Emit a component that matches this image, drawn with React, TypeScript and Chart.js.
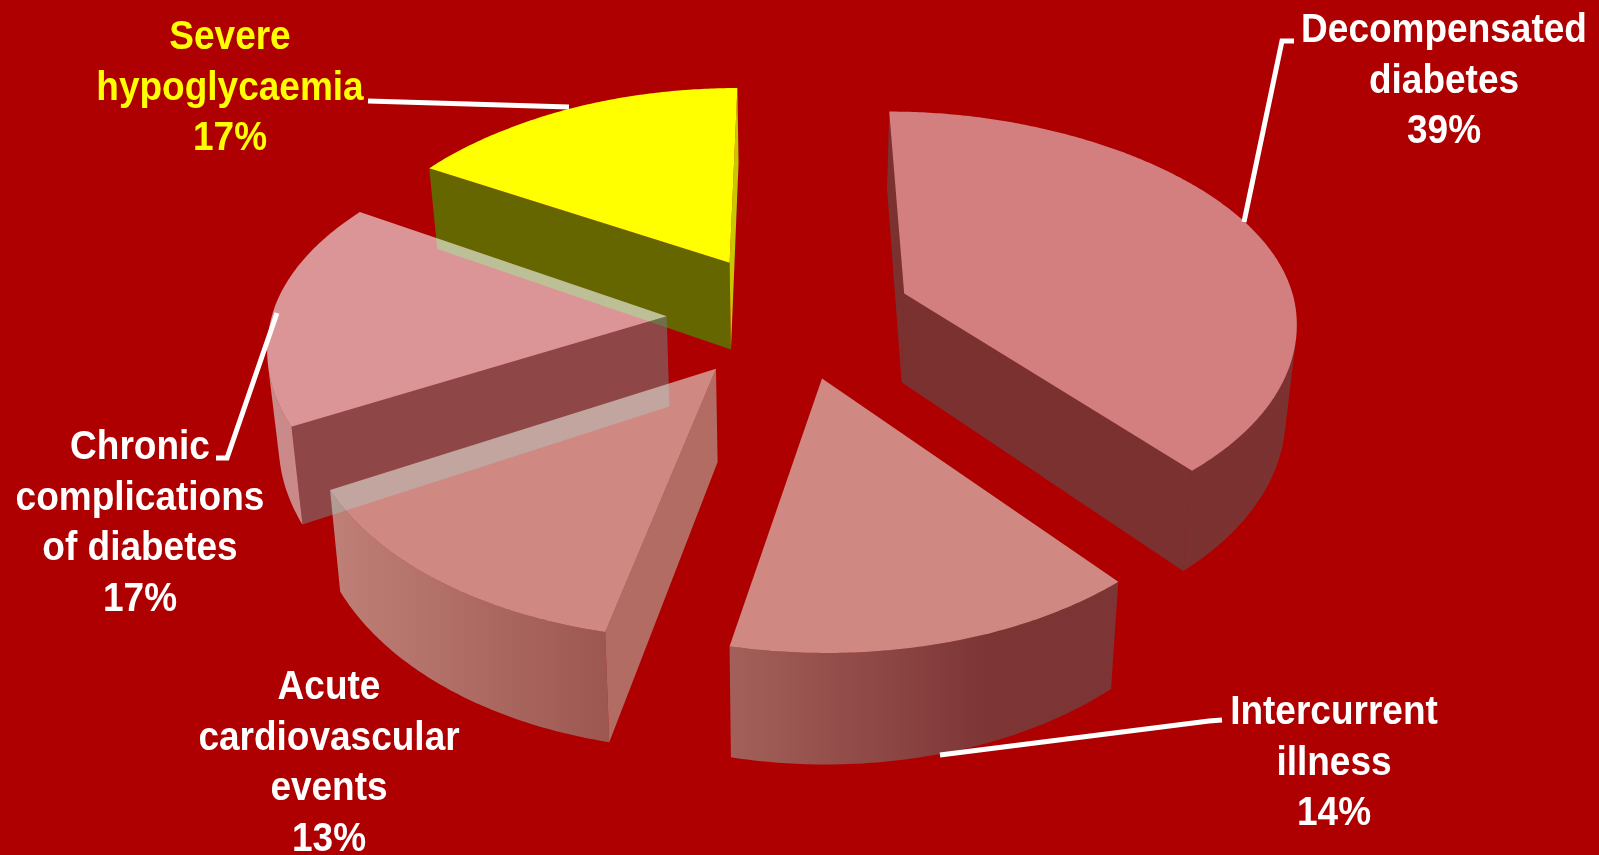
import React, { useEffect, useRef } from "react";
import { Chart, registerables } from "chart.js";

Chart.register(...registerables);

// Share of admissions by cause, in percent, clockwise from twelve o'clock.
const categories = [
  "Decompensated diabetes",
  "Intercurrent illness",
  "Acute cardiovascular events",
  "Chronic complications of diabetes",
  "Severe hypoglycaemia",
];
const shares = [39, 14, 13, 17, 17];

const labelLines = [
  ["Decompensated", "diabetes", "39%"],
  ["Intercurrent", "illness", "14%"],
  ["Acute", "cardiovascular", "events", "13%"],
  ["Chronic", "complications", "of diabetes", "17%"],
  ["Severe", "hypoglycaemia", "17%"],
];

const BACKGROUND = "#ae0000";
const FONT = 'bold 40px "Liberation Sans", Arial, sans-serif';
const TEXT_SQUEEZE = 0.925;
const LINE_HEIGHT = 50.6;

// Per-slice look: top face, side wall stops (left to right), cut faces.
const sliceStyles = [
  { top: "rgba(248,254,255,0.5)", wall: ["rgba(87,87,87,0.57)", "rgba(87,87,87,0.57)"], wallAt: [0, 1], cutA: "rgba(87,87,87,0.57)", cutB: "rgba(87,87,87,0.57)" },
  { top: "rgba(229,228,217,0.6)", wall: ["rgba(156,160,150,0.6)", "rgba(91,87,87,0.6)", "rgba(91,87,87,0.6)"], wallAt: [0, 0.68, 1], cutA: "rgba(91,87,87,0.6)", cutB: "rgba(156,160,150,0.6)" },
  { top: "rgba(229,228,217,0.6)", wall: ["rgba(202,213,200,0.6)", "rgba(144,145,133,0.6)"], wallAt: [0, 1], cutA: "rgba(182,180,167,0.6)", cutB: "rgba(182,180,167,0.6)" },
  { top: "rgba(250,254,255,0.59)", wall: ["rgba(222,234,234,0.59)", "rgba(222,234,234,0.59)"], wallAt: [0, 1], cutA: "rgba(119,119,119,0.59)", cutB: "rgba(119,119,119,0.59)" },
  { top: "#ffff00", wall: ["#666600", "#666600"], wallAt: [0, 1], cutA: "#666600", cutB: "#c8c800" },
];
const sliceExplode = [1, 1, 1.03, 1, 1];

// Camera for the tilted, exploded pie. World units are pie radii.
const camera = {
  cx: 790,
  scaleX: 391,
  horizon: -1099,
  depth: 1414,
  tilt: 0.153,
  thickness: 90,
  taper: 0.978,
  explodeX: 0.315,
  explodeY: 0.29,
  sag: 6.5,
  nearSquash: 0.02,
};

type Pt = { x: number; y: number };

function project(X: number, Y: number, bottom: boolean): Pt {
  const w = 1 - camera.tilt * Y;
  const x = (camera.scaleX * X) / w;
  const sagAmount = camera.sag * X * X * Math.min(1, Math.max(0, 1 + Y));
  return {
    x: camera.cx + (bottom ? x * camera.taper : x),
    y: camera.horizon + (camera.depth + (bottom ? camera.thickness : 0)) / w - sagAmount,
  };
}

// Lens correction of the rim, in radians, for a chart angle.
function rimShift(a: number) {
  const deg = (((a + Math.PI / 2) * 180) / Math.PI + 720) % 360;
  const near = 0.9 * ((1 - Math.cos((deg * Math.PI) / 180)) / 2);
  const far = 1.6 * Math.exp(-(((deg - 265) / 40) ** 2));
  return ((near + far) * Math.PI) / 180;
}

function rimPoint(ox: number, oy: number, t: number, bottom: boolean) {
  const a = t + rimShift(t);
  const s = Math.sin(a);
  const ry = s > 0 ? s - camera.nearSquash * s * s : s;
  return project(ox + Math.cos(a), oy + ry, bottom);
}

function tracePolygon(ctx: CanvasRenderingContext2D, pts: Pt[]) {
  ctx.beginPath();
  pts.forEach((p, i) => (i ? ctx.lineTo(p.x, p.y) : ctx.moveTo(p.x, p.y)));
  ctx.closePath();
}

// Turning sign of the quad p, q, q', p'; negative means it faces the viewer.
function facesViewer(p: Pt, q: Pt, qb: Pt) {
  return (q.x - p.x) * (qb.y - q.y) - (q.y - p.y) * (qb.x - q.x) < 0;
}

function drawSlice(ctx: CanvasRenderingContext2D, arc: any, index: number) {
  const style = sliceStyles[index];
  const { startAngle, endAngle } = arc.getProps(["startAngle", "endAngle"], true);
  const mid = (startAngle + endAngle) / 2;
  const ox = Math.cos(mid) * camera.explodeX * sliceExplode[index];
  const oy = Math.sin(mid) * camera.explodeY;
  const steps = Math.ceil((endAngle - startAngle) / 0.01);
  const rimTop: Pt[] = [];
  const rimBottom: Pt[] = [];
  for (let i = 0; i <= steps; i++) {
    const t = startAngle + ((endAngle - startAngle) * i) / steps;
    rimTop.push(rimPoint(ox, oy, t, false));
    rimBottom.push(rimPoint(ox, oy, t, true));
  }
  const apexTop = project(ox, oy, false);
  const apexBottom = project(ox, oy, true);

  // Cut face along the first radius.
  if (facesViewer(apexTop, rimTop[0], rimBottom[0])) {
    tracePolygon(ctx, [apexTop, rimTop[0], rimBottom[0], apexBottom]);
    ctx.fillStyle = style.cutA;
    ctx.fill();
  }
  // Cut face along the last radius.
  const last = rimTop.length - 1;
  if (facesViewer(rimTop[last], apexTop, apexBottom)) {
    tracePolygon(ctx, [rimTop[last], apexTop, apexBottom, rimBottom[last]]);
    ctx.fillStyle = style.cutB;
    ctx.fill();
  }
  // Curved side wall: only the run of the rim that turns toward the viewer.
  const front: number[] = [];
  for (let i = 0; i < last; i++) {
    if (facesViewer(rimTop[i], rimTop[i + 1], rimBottom[i + 1])) front.push(i);
  }
  if (front.length) {
    const from = front[0];
    const to = front[front.length - 1] + 1;
    const upper = rimTop.slice(from, to + 1);
    const lower = rimBottom.slice(from, to + 1).reverse();
    const xs = upper.concat(lower).map((p) => p.x);
    const g = ctx.createLinearGradient(Math.min(...xs), 0, Math.max(...xs), 0);
    style.wall.forEach((c, i) => g.addColorStop(style.wallAt[i], c));
    tracePolygon(ctx, upper.concat(lower));
    ctx.fillStyle = g;
    ctx.fill();
  }
  // Top face.
  tracePolygon(ctx, [apexTop, ...rimTop]);
  ctx.fillStyle = style.top;
  ctx.fill();
}

const pie3d = {
  id: "pie3d",
  beforeDraw(chart: any) {
    const { ctx, width, height } = chart;
    ctx.save();
    ctx.fillStyle = BACKGROUND;
    ctx.fillRect(0, 0, width, height);
    ctx.restore();
  },
  // The flat arcs are replaced by their extruded projection; far slices paint first.
  beforeDatasetDraw(chart: any, args: any) {
    const { ctx } = chart;
    const arcs = chart.getDatasetMeta(args.index).data;
    ctx.save();
    for (let i = arcs.length - 1; i >= 0; i--) drawSlice(ctx, arcs[i], i);
    ctx.restore();
    return false;
  },
};

// First-line baselines and elbowed leader lines, slice by slice.
const labelAnchors: Pt[] = [
  { x: 1444, y: 42 },
  { x: 1334, y: 724 },
  { x: 329, y: 699 },
  { x: 140, y: 459 },
  { x: 230, y: 49 },
];
const leaders: Pt[][] = [
  [{ x: 1244, y: 222 }, { x: 1282, y: 41 }, { x: 1294, y: 41 }],
  [{ x: 940, y: 755 }, { x: 1209, y: 721 }, { x: 1222, y: 720 }],
  [],
  [{ x: 277, y: 313 }, { x: 227, y: 458 }, { x: 216, y: 458 }],
  [{ x: 368, y: 101 }, { x: 569, y: 107 }],
];
const labelColours = ["#ffffff", "#ffffff", "#ffffff", "#ffffff", "#ffff00"];

const callouts = {
  id: "callouts",
  afterDraw(chart: any) {
    const { ctx } = chart;
    ctx.save();
    ctx.strokeStyle = "#ffffff";
    ctx.lineWidth = 5;
    ctx.lineJoin = "miter";
    leaders.forEach((pts) => {
      if (!pts.length) return;
      ctx.beginPath();
      pts.forEach((p, i) => (i ? ctx.lineTo(p.x, p.y) : ctx.moveTo(p.x, p.y)));
      ctx.stroke();
    });
    ctx.font = FONT;
    ctx.textAlign = "center";
    ctx.textBaseline = "alphabetic";
    labelLines.forEach((lines, i) => {
      ctx.fillStyle = labelColours[i];
      lines.forEach((text, j) => {
        ctx.save();
        ctx.translate(labelAnchors[i].x, labelAnchors[i].y + j * LINE_HEIGHT);
        ctx.scale(TEXT_SQUEEZE, 1);
        ctx.fillText(text, 0, 0);
        ctx.restore();
      });
    });
    ctx.restore();
  },
};

export default function App() {
  const ref = useRef<HTMLCanvasElement>(null);
  useEffect(() => {
    document.body.style.margin = "0";
    document.body.style.background = BACKGROUND;
    const chart = new Chart(ref.current!, {
      type: "pie",
      data: { labels: categories, datasets: [{ data: shares, borderWidth: 0 }] },
      options: {
        responsive: false,
        animation: false,
        rotation: 0,
        plugins: { legend: { display: false }, tooltip: { enabled: false } },
      },
      plugins: [pie3d, callouts],
    });
    return () => chart.destroy();
  }, []);
  return <canvas ref={ref} width={1599} height={855} style={{ display: "block" }} />;
}
